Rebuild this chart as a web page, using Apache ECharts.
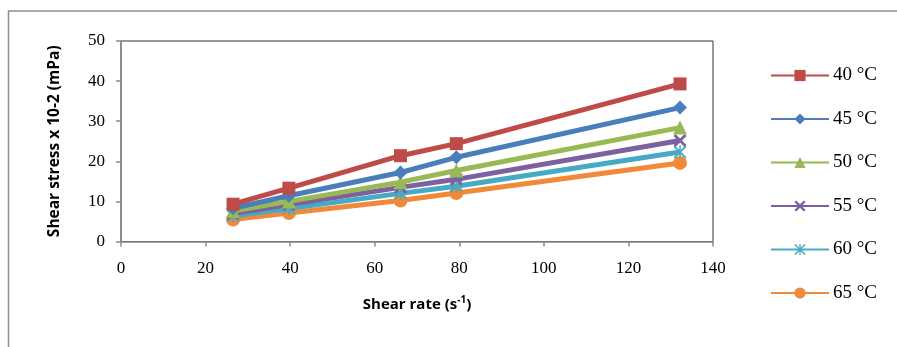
<!DOCTYPE html>
<html>
<head>
<meta charset="utf-8">
<script src="https://cdn.jsdelivr.net/npm/echarts@6/dist/echarts.min.js"></script>
<style>
  html, body { margin: 0; padding: 0; background: #fff; }
  #chart { width: 897px; height: 347px; }
</style>
</head>
<body>
<div id="chart"></div>
<script>
// Shear rate (s^-1) at which stress was measured
const shearRate = [26.5, 39.7, 66.1, 79.3, 132.2];

// Shear stress x 10^-2 (mPa) per temperature
const t40 = [9.3, 13.3, 21.4, 24.4, 39.3];
const t45 = [8.3, 11.4, 17.2, 21.0, 33.4];
const t50 = [7.6, 10.0, 14.8, 17.7, 28.4];
const t55 = [7.0, 9.2, 13.5, 15.5, 25.2];
const t60 = [6.4, 8.2, 12.0, 13.8, 22.3];
const t65 = [5.5, 7.1, 10.2, 12.1, 19.6];

const seriesNames = ['40 °C', '45 °C', '50 °C', '55 °C', '60 °C', '65 °C'];
const xTicks = [0, 20, 40, 60, 80, 100, 120, 140];
const yTicks = [0, 10, 20, 30, 40, 50];

const colors = ['#BE4B48', '#4A7EBB', '#98B954', '#7D60A0', '#46AAC5', '#F08A3A'];
const crossPath = 'path://M0,1.5 L1.5,0 L5,3.5 L8.5,0 L10,1.5 L6.5,5 L10,8.5 L8.5,10 L5,6.5 L1.5,10 L0,8.5 L3.5,5 Z';
const starPath = 'path://M0,1 L1,0 L5,4 L9,0 L10,1 L6,5 L10,9 L9,10 L5,6 L1,10 L0,9 L4,5 Z M4.4,0 L5.6,0 L5.6,10 L4.4,10 Z';
const symbols = ['rect', 'diamond', 'triangle', crossPath, starPath, 'circle'];
const sizes = [13, 14, 14, 13, 13, 14];
const values = [t40, t45, t50, t55, t60, t65];

const serif = '"Liberation Serif", "DejaVu Serif", serif';
const sans = '"Open Sans", "Liberation Sans", sans-serif';

const chart = echarts.init(document.getElementById('chart'), null, { renderer: 'canvas' });

chart.setOption({
  animation: false,
  color: colors,
  graphic: [{
    type: 'rect',
    shape: { x: 8.5, y: 11, width: 900, height: 400 },
    style: { fill: 'none', stroke: '#8E8E8E', lineWidth: 1.5 },
    silent: true
  }],
  grid: {
    left: 121, right: 184, top: 41, bottom: 105.5,
    show: true, borderColor: '#333', borderWidth: 1, backgroundColor: '#fff'
  },
  legend: {
    orient: 'vertical',
    left: 765, top: 61,
    itemWidth: 58, itemHeight: 14, itemGap: 24.5,
    data: seriesNames,
    textStyle: { fontFamily: serif, fontSize: 19, color: '#000', padding: [0, 0, 0, -1] }
  },
  xAxis: {
    type: 'value',
    min: 0, max: 140, interval: 20,
    name: '{t|Shear rate (s}{s|-1}{t|)}',
    nameLocation: 'middle', nameGap: 54,
    nameTextStyle: {
      rich: {
        t: { fontFamily: sans, fontSize: 15, fontWeight: 'bold', color: '#000' },
        s: { fontFamily: sans, fontSize: 10, fontWeight: 'bold', color: '#000', verticalAlign: 'top', padding: [0, 0, 8, 0] }
      }
    },
    axisLine: { lineStyle: { color: '#8A8A8A', width: 1.5 } },
    axisTick: { length: 5, lineStyle: { color: '#8A8A8A', width: 1.5 } },
    axisLabel: {
      margin: 19, fontFamily: serif, fontSize: 17, color: '#000',
      formatter: v => xTicks.includes(v) ? String(v) : ''
    },
    splitLine: { show: false }
  },
  yAxis: {
    type: 'value',
    min: 0, max: 50, interval: 10,
    name: 'Shear stress x 10-2 (mPa)',
    nameLocation: 'middle', nameGap: 58, nameRotate: 90,
    nameTextStyle: { fontFamily: sans, fontSize: 15.5, fontWeight: 'bold', color: '#000' },
    axisLine: { show: true, lineStyle: { color: '#8A8A8A', width: 1.5 } },
    axisTick: { show: true, length: 5, lineStyle: { color: '#8A8A8A', width: 1.5 } },
    axisLabel: {
      margin: 16, fontFamily: serif, fontSize: 17, color: '#000',
      formatter: v => yTicks.includes(v) ? String(v) : ''
    },
    splitLine: { show: false }
  },
  series: seriesNames.map((name, i) => ({
    name,
    type: 'line',
    data: shearRate.map((x, j) => [x, values[i][j]]),
    symbol: symbols[i],
    symbolSize: sizes[i],
    showAllSymbol: true,
    lineStyle: { width: 5, color: colors[i] },
    itemStyle: { color: colors[i] },
    z: 10 - i
  }))
});
</script>
</body>
</html>
